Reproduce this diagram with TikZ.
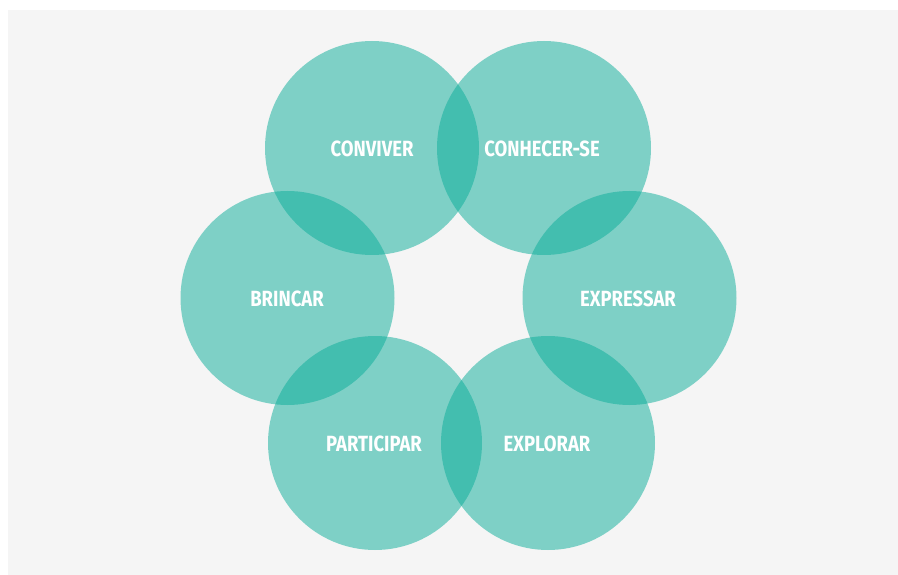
\documentclass[tikz,border=0pt]{standalone}
\usepackage{fontspec}
\setmainfont{Fira Sans}[BoldFont={* Bold},BoldFeatures={FakeStretch=0.84}]
\definecolor{bgc}{HTML}{F5F5F5}
\definecolor{teal}{HTML}{09AD99}
\begin{document}
\begin{tikzpicture}[x=1pt,y=-1pt,
  petal/.style={circle,minimum size=214pt,inner sep=0pt,fill=teal,fill opacity=0.5,draw=none},
  lbl/.style={text=white,font=\bfseries\fontsize{22}{24}\selectfont,inner sep=0pt}]
\useasboundingbox (0,0) rectangle (898,575);
\fill[bgc] (8,10) rectangle (898,575);
\node[petal] (c1) at (372,148) {};
\node[petal] (c2) at (544,148) {};
\node[petal] (c3) at (287.5,298) {};
\node[petal] (c4) at (629.5,298) {};
\node[petal] (c5) at (375,443) {};
\node[petal] (c6) at (548,443) {};
\node[lbl] (t1) at (372,149) {CONVIVER};
\node[lbl] (t2) at (542,149) {CONHECER-SE};
\node[lbl] (t3) at (287,299) {BRINCAR};
\node[lbl] (t4) at (628,299) {EXPRESSAR};
\node[lbl] (t5) at (374,444) {PARTICIPAR};
\node[lbl] (t6) at (547,444) {EXPLORAR};
\end{tikzpicture}
\end{document}
